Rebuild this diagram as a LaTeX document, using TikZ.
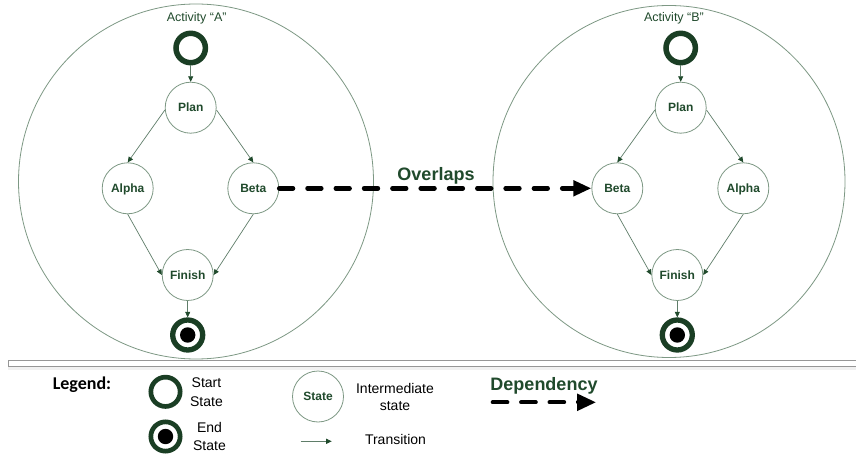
\documentclass[tikz,border=0pt]{standalone}
\usepackage{fontspec}
\setmainfont{Liberation Sans}
\newfontfamily\calfont{Carlito}
\usetikzlibrary{arrows.meta}
\definecolor{dkgreen}{RGB}{32,74,44}
\definecolor{ringgreen}{RGB}{26,62,36}
\definecolor{outline}{RGB}{125,152,132}
\definecolor{trline}{RGB}{95,125,105}
\definecolor{sepgray}{RGB}{150,150,150}
\begin{document}
\begin{tikzpicture}[x=1pt,y=-1pt,
  activity/.style={circle, draw=outline, line width=0.8pt, inner sep=0pt},
  statenode/.style={circle, draw=outline, line width=0.8pt, minimum size=51pt, inner sep=0pt,
    text=dkgreen, font=\fontsize{12}{14}\selectfont\bfseries, text height=8.6pt, text depth=0pt},
  startnode/.style={circle, draw=ringgreen, line width=5.5pt, minimum size=29.4pt, inner sep=0pt},
  endnode/.style={circle, draw=ringgreen, line width=5.3pt, minimum size=30pt, inner sep=0pt, fill=white,
    path picture={\fill[black] (path picture bounding box.center) circle (7.7pt);}},
  trans/.style={draw=trline, line width=0.7pt, -{Triangle[length=5.5pt,width=5pt,color=dkgreen]}},
  dep/.style={draw=black, line width=4.5pt, line cap=round, dash pattern=on 13.8pt off 14.5pt,
    -{Triangle[length=18pt,width=15pt]}},
  acttext/.style={anchor=base, text=dkgreen, font=\fontsize{12.5}{14}\selectfont},
  bigtext/.style={anchor=base, text=dkgreen, font=\fontsize{18}{20}\selectfont\bfseries},
  legtext/.style={align=center, text=black, font=\fontsize{14}{18.3}\selectfont, inner sep=0pt}
]
\useasboundingbox (0,0) rectangle (856,454);
\fill[white] (0,0) rectangle (856,454);

% activity circles
\node[activity, minimum size=355pt] (actA) at (196,181.5) {};
\node[activity, minimum size=352pt] (actB) at (669,181.5) {};
\node[acttext] (labA) at (196.7,21.7) {Activity “A”};
\node[acttext] (labB) at (674,21.7) {Activity “B”};

% activity A
\node[startnode] (sA) at (190.7,48) {};
\node[statenode] (planA) at (190.7,107.7) {Plan};
\node[statenode] (alphaA) at (127.7,188.3) {Alpha};
\node[statenode] (betaA) at (253.3,188.3) {Beta};
\node[statenode] (finA) at (187.7,275) {Finish};
\node[endnode] (eA) at (187.7,335) {};
\draw[trans] (sA) -- (planA);
\draw[trans] (planA.185) -- (alphaA.north);
\draw[trans] (planA.355) -- (betaA.north);
\draw[trans] (alphaA.south) -- (finA.west);
\draw[trans] (betaA.south) -- (finA.east);
\draw[trans] (finA) -- (eA);

% activity B
\node[startnode] (sB) at (680.7,48) {};
\node[statenode] (planB) at (680.7,107.7) {Plan};
\node[statenode] (betaB) at (617.3,188.3) {Beta};
\node[statenode] (alphaB) at (743.3,188.3) {Alpha};
\node[statenode] (finB) at (677.3,275) {Finish};
\node[endnode] (eB) at (677.3,335) {};
\draw[trans] (sB) -- (planB);
\draw[trans] (planB.185) -- (betaB.north);
\draw[trans] (planB.355) -- (alphaB.north);
\draw[trans] (betaB.south) -- (finB.west);
\draw[trans] (alphaB.south) -- (finB.east);
\draw[trans] (finB) -- (eB);

% dependency
\draw[dep] (betaA.east) -- (betaB.west);
\node[bigtext] (overlaps) at (436,180.7) {Overlaps};

% separator
\fill[gray!12] (8.4,366.4) rectangle (856,370);
\draw[sepgray, line width=0.8pt] (858,360) -- (8,360) -- (8,366) -- (858,366);

% legend
\node[anchor=base, text=black, font=\calfont\fontsize{18}{20}\selectfont\bfseries] (legend) at (82,389) {Legend:};
\node[startnode, line width=4.7pt, minimum size=29.3pt] (startL) at (165.5,391.8) {};
\node[legtext] (startT) at (206.5,392.2) {Start\\State};
\node[endnode, line width=4.7pt, minimum size=29.3pt] (endL) at (165.5,436.5) {};
\node[legtext] (endT) at (209.5,436.5) {End\\State};
\node[statenode] (stateL) at (318,396.5) {State};
\node[legtext, font=\fontsize{14}{17.3}\selectfont] (interT) at (395,397) {Intermediate\\state};
\coordinate (trA) at (300.7,441.3);
\coordinate (trB) at (331.7,441.3);
\draw[trans] (trA) -- (trB);
\node[legtext] (transT) at (395.5,439) {Transition};
\node[bigtext] (depT) at (544,390) {Dependency};
\coordinate (depA) at (492.7,402.3);
\coordinate (depB) at (596,402.3);
\draw[dep, line width=4pt, dash pattern=on 14.7pt off 13.7pt, -{Triangle[length=19pt,width=16.5pt]}] (depA) -- (depB);
\end{tikzpicture}
\end{document}
